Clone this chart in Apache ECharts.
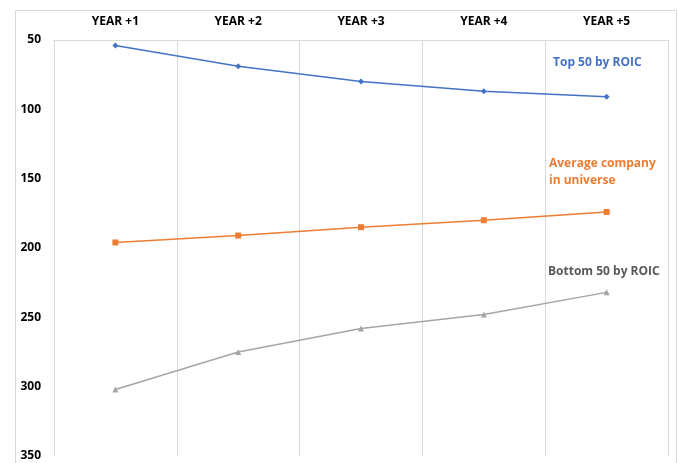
<!DOCTYPE html>
<html>
<head>
<meta charset="utf-8">
<script src="https://cdn.jsdelivr.net/npm/echarts@6/dist/echarts.min.js"></script>
<style>
  html, body { margin: 0; padding: 0; background: #fff; }
  #main { width: 679px; height: 463px; }
</style>
</head>
<body>
<div id="main"></div>
<script>
// categories + series (y axis is a rank, inverted)
const years = ["YEAR +1", "YEAR +2", "YEAR +3", "YEAR +4", "YEAR +5"];
const top50 = [54, 69, 80, 87, 91];
const average = [196, 191, 185, 180, 174];
const bottom50 = [302, 275, 258, 248, 232];

const FONT = "'Open Sans', 'DejaVu Sans', sans-serif";

const chart = echarts.init(document.getElementById("main"));

const option = {
  animation: false,
  grid: { left: 54, right: 11, top: 40, bottom: 7 },
  xAxis: {
    type: "category",
    data: years,
    position: "top",
    boundaryGap: true,
    axisLine: { show: true, lineStyle: { color: "#D9D9D9", width: 1 } },
    axisTick: { show: false },
    axisLabel: {
      color: "#000",
      fontFamily: FONT,
      fontWeight: "bold",
      fontSize: 12,
      margin: 12
    },
    splitLine: { show: true, lineStyle: { color: "#D9D9D9", width: 1 } }
  },
  yAxis: {
    type: "value",
    inverse: true,
    min: 50,
    max: 350,
    interval: 50,
    axisLine: { show: true, lineStyle: { color: "#D9D9D9", width: 1 } },
    axisTick: { show: false },
    axisLabel: {
      color: "#000",
      fontFamily: FONT,
      fontWeight: "bold",
      fontSize: 12,
      margin: 13
    },
    splitLine: { show: false }
  },
  series: [
    {
      name: "Top 50 by ROIC",
      type: "line",
      data: top50,
      symbol: "diamond",
      symbolSize: 6,
      lineStyle: { color: "#4472C4", width: 1.5 },
      itemStyle: { color: "#4472C4" }
    },
    {
      name: "Average company in universe",
      type: "line",
      data: average,
      symbol: "rect",
      symbolSize: 6,
      lineStyle: { color: "#ED7D31", width: 1.5 },
      itemStyle: { color: "#ED7D31" }
    },
    {
      name: "Bottom 50 by ROIC",
      type: "line",
      data: bottom50,
      symbol: "triangle",
      symbolSize: 6,
      lineStyle: { color: "#A5A5A5", width: 1.5 },
      itemStyle: { color: "#A5A5A5" }
    }
  ],
  graphic: [
    {
      type: "rect",
      shape: { x: 15.5, y: 10.5, width: 661, height: 470 },
      style: { fill: "none", stroke: "#D9D9D9", lineWidth: 1 },
      silent: true,
      z: -1
    },
    {
      type: "text",
      left: 553,
      top: 57,
      style: { text: "Top 50 by ROIC", fill: "#4472C4", font: "bold 12px " + FONT }
    },
    {
      type: "text",
      left: 549,
      top: 155,
      style: {
        text: "Average company\nin universe",
        fill: "#ED7D31",
        font: "bold 12px " + FONT,
        lineHeight: 17
      }
    },
    {
      type: "text",
      left: 548,
      top: 266,
      style: { text: "Bottom 50 by ROIC", fill: "#595959", font: "bold 12px " + FONT }
    }
  ]
};

option && chart.setOption(option);
</script>
</body>
</html>
